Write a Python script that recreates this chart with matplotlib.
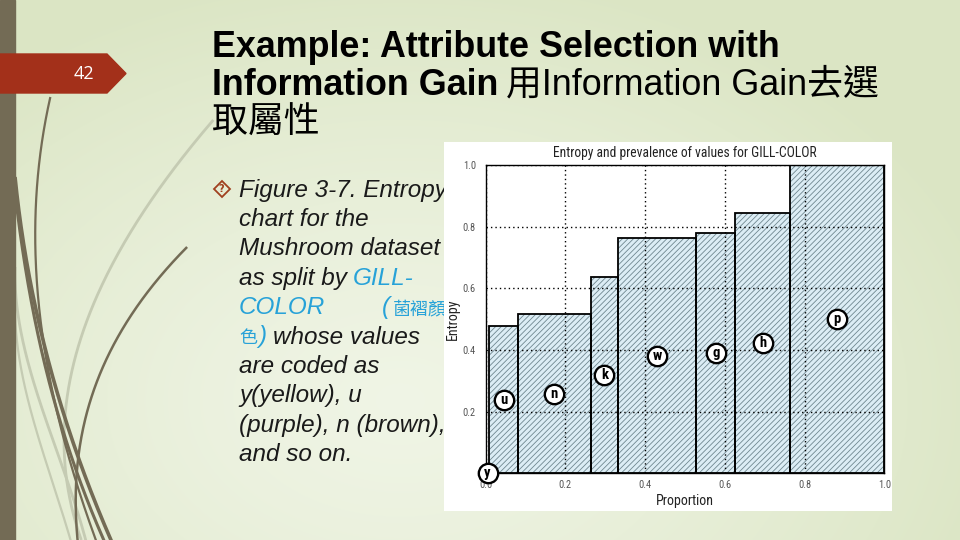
import numpy as np
import matplotlib
matplotlib.use('Agg')
import matplotlib.pyplot as plt
from matplotlib import font_manager
from matplotlib.patches import Polygon, Rectangle

# ---------------- data ----------------
values = ['y', 'u', 'n', 'k', 'w', 'g', 'h', 'p']
proportion = [0.0092, 0.0718, 0.182, 0.069, 0.196, 0.098, 0.137, 0.237]
entropy = [0.0, 0.478, 0.516, 0.636, 0.762, 0.781, 0.843, 1.0]
x_tick_values = [0.0, 0.2, 0.4, 0.6, 0.8, 1.0]
x_tick_labels = ['0.0', '0.2', '0.4', '0.6', '0.8', '1.0']
y_tick_values = [0.2, 0.4, 0.6, 0.8, 1.0]
y_tick_labels = ['0.2', '0.4', '0.6', '0.8', '1.0']

chart_title = 'Entropy and prevalence of values for GILL-COLOR'
x_label = 'Proportion'
y_label = 'Entropy'
slide_number = '42'

# ---------------- fonts ----------------
avail = {f.name for f in font_manager.fontManager.ttflist}
narrow = next((f for f in ['Liberation Sans Narrow', 'Roboto Condensed',
                           'Open Sans Condensed', 'DejaVu Sans'] if f in avail), 'DejaVu Sans')
SANS = ['Liberation Sans', 'Noto Sans CJK TC', 'DejaVu Sans']
CJK = ['Noto Sans CJK TC', 'Liberation Sans', 'DejaVu Sans']

W, H = 960, 540
fig = plt.figure(figsize=(9.6, 5.4), dpi=100)

# ---------------- slide background ----------------
bg = fig.add_axes([0, 0, 1, 1], zorder=0)
bg.set_xlim(0, W)
bg.set_ylim(H, 0)
bg.axis('off')

yy, xx = np.mgrid[0:H, 0:W]
t = np.clip(np.sqrt(((xx - 400) / 620.0) ** 2 + ((yy - 400) / 430.0) ** 2), 0, 1) ** 1.3
c_center = np.array([0.94, 0.96, 0.90])
c_edge = np.array([0.86, 0.90, 0.77])
img = c_center[None, None, :] * (1 - t[..., None]) + c_edge[None, None, :] * t[..., None]
bg.imshow(img, extent=(0, W, H, 0), aspect='auto', zorder=0)

# decorative swooshes (x as a smooth function of y)
def swoosh(pts, color, lw):
    pts = np.array(pts, dtype=float)
    deg = min(3, len(pts) - 1)
    coef = np.polyfit(pts[:, 1], pts[:, 0], deg)
    ys = np.linspace(pts[0, 1], pts[-1, 1], 200)
    bg.plot(np.polyval(coef, ys), ys, color=color, lw=lw, solid_capstyle='butt', zorder=1)

dark = '#736b55'
light = '#c5cbb3'
swoosh([(213, 120), (133, 230), (83, 330), (63, 413), (70, 480), (80, 540)], light, 2.0)
swoosh([(15, 267), (33, 380), (67, 480), (87, 545)], light, 2.0)
swoosh([(15, 300), (28, 400), (55, 490), (72, 545)], light, 1.6)
swoosh([(50, 97), (37, 213), (38, 313), (50, 380), (77, 480), (97, 545)], dark, 1.6)
swoosh([(15, 177), (37, 313), (58, 397), (87, 480), (113, 545)], dark, 2.6)
swoosh([(15, 192), (31, 300), (50, 385), (76, 470), (106, 545)], dark, 2.2)
swoosh([(187, 247), (133, 313), (97, 380), (80, 447), (78, 545)], dark, 1.8)

bg.add_patch(Rectangle((0, 0), 15, H, color='#736b55', zorder=2))
bg.add_patch(Polygon([(0, 54), (107, 54), (126, 73.5), (107, 93), (0, 93)],
                     closed=True, color='#a3301a', zorder=3))
bg.text(84, 74, slide_number, color='white', fontsize=13, family=['Open Sans', 'DejaVu Sans'],
        ha='center', va='center', zorder=4)

fig.canvas.draw()
R = fig.canvas.get_renderer()

def seg(x, y, s, **kw):
    tx = bg.text(x, y, s, ha='left', va='baseline', zorder=5, **kw)
    return tx.get_window_extent(R).x1

# ---------------- title ----------------
TS = 25.8
seg(212, 57, 'Example: Attribute Selection with', family=SANS, fontsize=TS, fontweight='bold')
xe = seg(212, 95, 'Information Gain', family=SANS, fontsize=TS, fontweight='bold')
seg(xe + 8, 95, '用Information Gain去選', family=SANS, fontsize=TS)
seg(212, 133, '取屬性', family=CJK, fontsize=TS)

# ---------------- bullet text ----------------
BS = 17.5
CS = 13
blue = '#27a2d8'
bx = 239
by0 = 196.5
dy = 29.4
bkw = dict(family=SANS, fontsize=BS, style='italic', color='#1a1a1a')
bluekw = dict(family=SANS, fontsize=BS, style='italic', color=blue)
bluecjk = dict(family=CJK, fontsize=CS, color=blue)

bg.plot([221.5], [188.5], marker='D', ms=8.5, mfc='none', mec='#a0401f', mew=1.3, zorder=5)
bg.text(221.5, 188.8, '?', fontsize=7, color='#a0401f', ha='center', va='center',
        fontweight='bold', zorder=5)

seg(bx, by0 + 0 * dy, 'Figure 3-7. Entropy', **bkw)
seg(bx, by0 + 1 * dy, 'chart for the', **bkw)
seg(bx, by0 + 2 * dy, 'Mushroom dataset', **bkw)
xe = seg(bx, by0 + 3 * dy, 'as split by', **bkw)
seg(xe + 6, by0 + 3 * dy, 'GILL-', **bluekw)
xe = seg(bx, by0 + 4 * dy, 'COLOR', **bluekw)
xe = seg(xe + 57, by0 + 4 * dy, '(', **bluekw)
seg(xe + 2, by0 + 4 * dy, '菌褶顏', **bluecjk)
xe = seg(bx, by0 + 5 * dy, '色', **bluecjk)
xe = seg(xe + 1, by0 + 5 * dy, ')', **bluekw)
seg(xe + 7, by0 + 5 * dy, 'whose values', **bkw)
seg(bx, by0 + 6 * dy, 'are coded as', **bkw)
seg(bx, by0 + 7 * dy, 'y(yellow), u', **bkw)
seg(bx, by0 + 8 * dy, '(purple), n (brown),', **bkw)
seg(bx, by0 + 9 * dy, 'and so on.', **bkw)

# ---------------- chart image box ----------------
box = fig.add_axes([444 / W, 1 - 511 / H, (892 - 444) / W, (511 - 142) / H], zorder=1)
box.set_facecolor('white')
box.set_xticks([])
box.set_yticks([])
for s in box.spines.values():
    s.set_visible(False)

# ---------------- chart ----------------
plt.rcParams['hatch.linewidth'] = 0.6
ax = fig.add_axes([485.7 / W, 1 - 473.3 / H, (884.3 - 485.7) / W, (473.3 - 165) / H], zorder=2)
ax.set_facecolor('white')
lefts = np.concatenate([[0], np.cumsum(proportion)[:-1]])
centers = lefts + np.array(proportion) / 2

ax.bar(lefts, entropy, width=proportion, align='edge', color='#dcedf5',
       edgecolor='#6f8790', linewidth=0, hatch='//////', zorder=1)
ax.bar(lefts, entropy, width=proportion, align='edge', fill=False,
       edgecolor='black', linewidth=1.3, zorder=3)

ax.set_xlim(0, 1)
ax.set_ylim(0, 1)
ax.set_xticks(x_tick_values)
ax.set_xticklabels(x_tick_labels)
ax.set_yticks(y_tick_values)
ax.set_yticklabels(y_tick_labels)
ax.tick_params(length=0, labelsize=7.5, labelcolor='#555555', pad=5)
ax.tick_params(axis='y', pad=7)
for lab in ax.get_xticklabels() + ax.get_yticklabels():
    lab.set_family(narrow)
    lab.set_stretch('condensed')
ax.grid(True, color='black', linestyle=(0, (1, 2.2)), linewidth=1.0)
for s in ax.spines.values():
    s.set_color('black')
    s.set_linewidth(1.0)

ax.set_title(chart_title, fontsize=9.8, family=narrow, stretch='condensed', pad=6, color='#222222')
ax.set_xlabel(x_label, fontsize=10, family=narrow, stretch='condensed', labelpad=3, color='#222222')
ax.set_ylabel(y_label, fontsize=10, family=narrow, stretch='condensed', labelpad=2, color='#222222')

ax.scatter(centers, np.array(entropy) / 2, s=195, facecolor='white', edgecolor='black',
           linewidth=1.7, zorder=6, clip_on=False)
for cx, e, v in zip(centers, entropy, values):
    ax.text(cx, e / 2, v, ha='center', va='center', fontsize=10.5, fontweight='bold',
            family=narrow, stretch='condensed', zorder=7, clip_on=False)

fig.savefig('out.png', dpi=100)
